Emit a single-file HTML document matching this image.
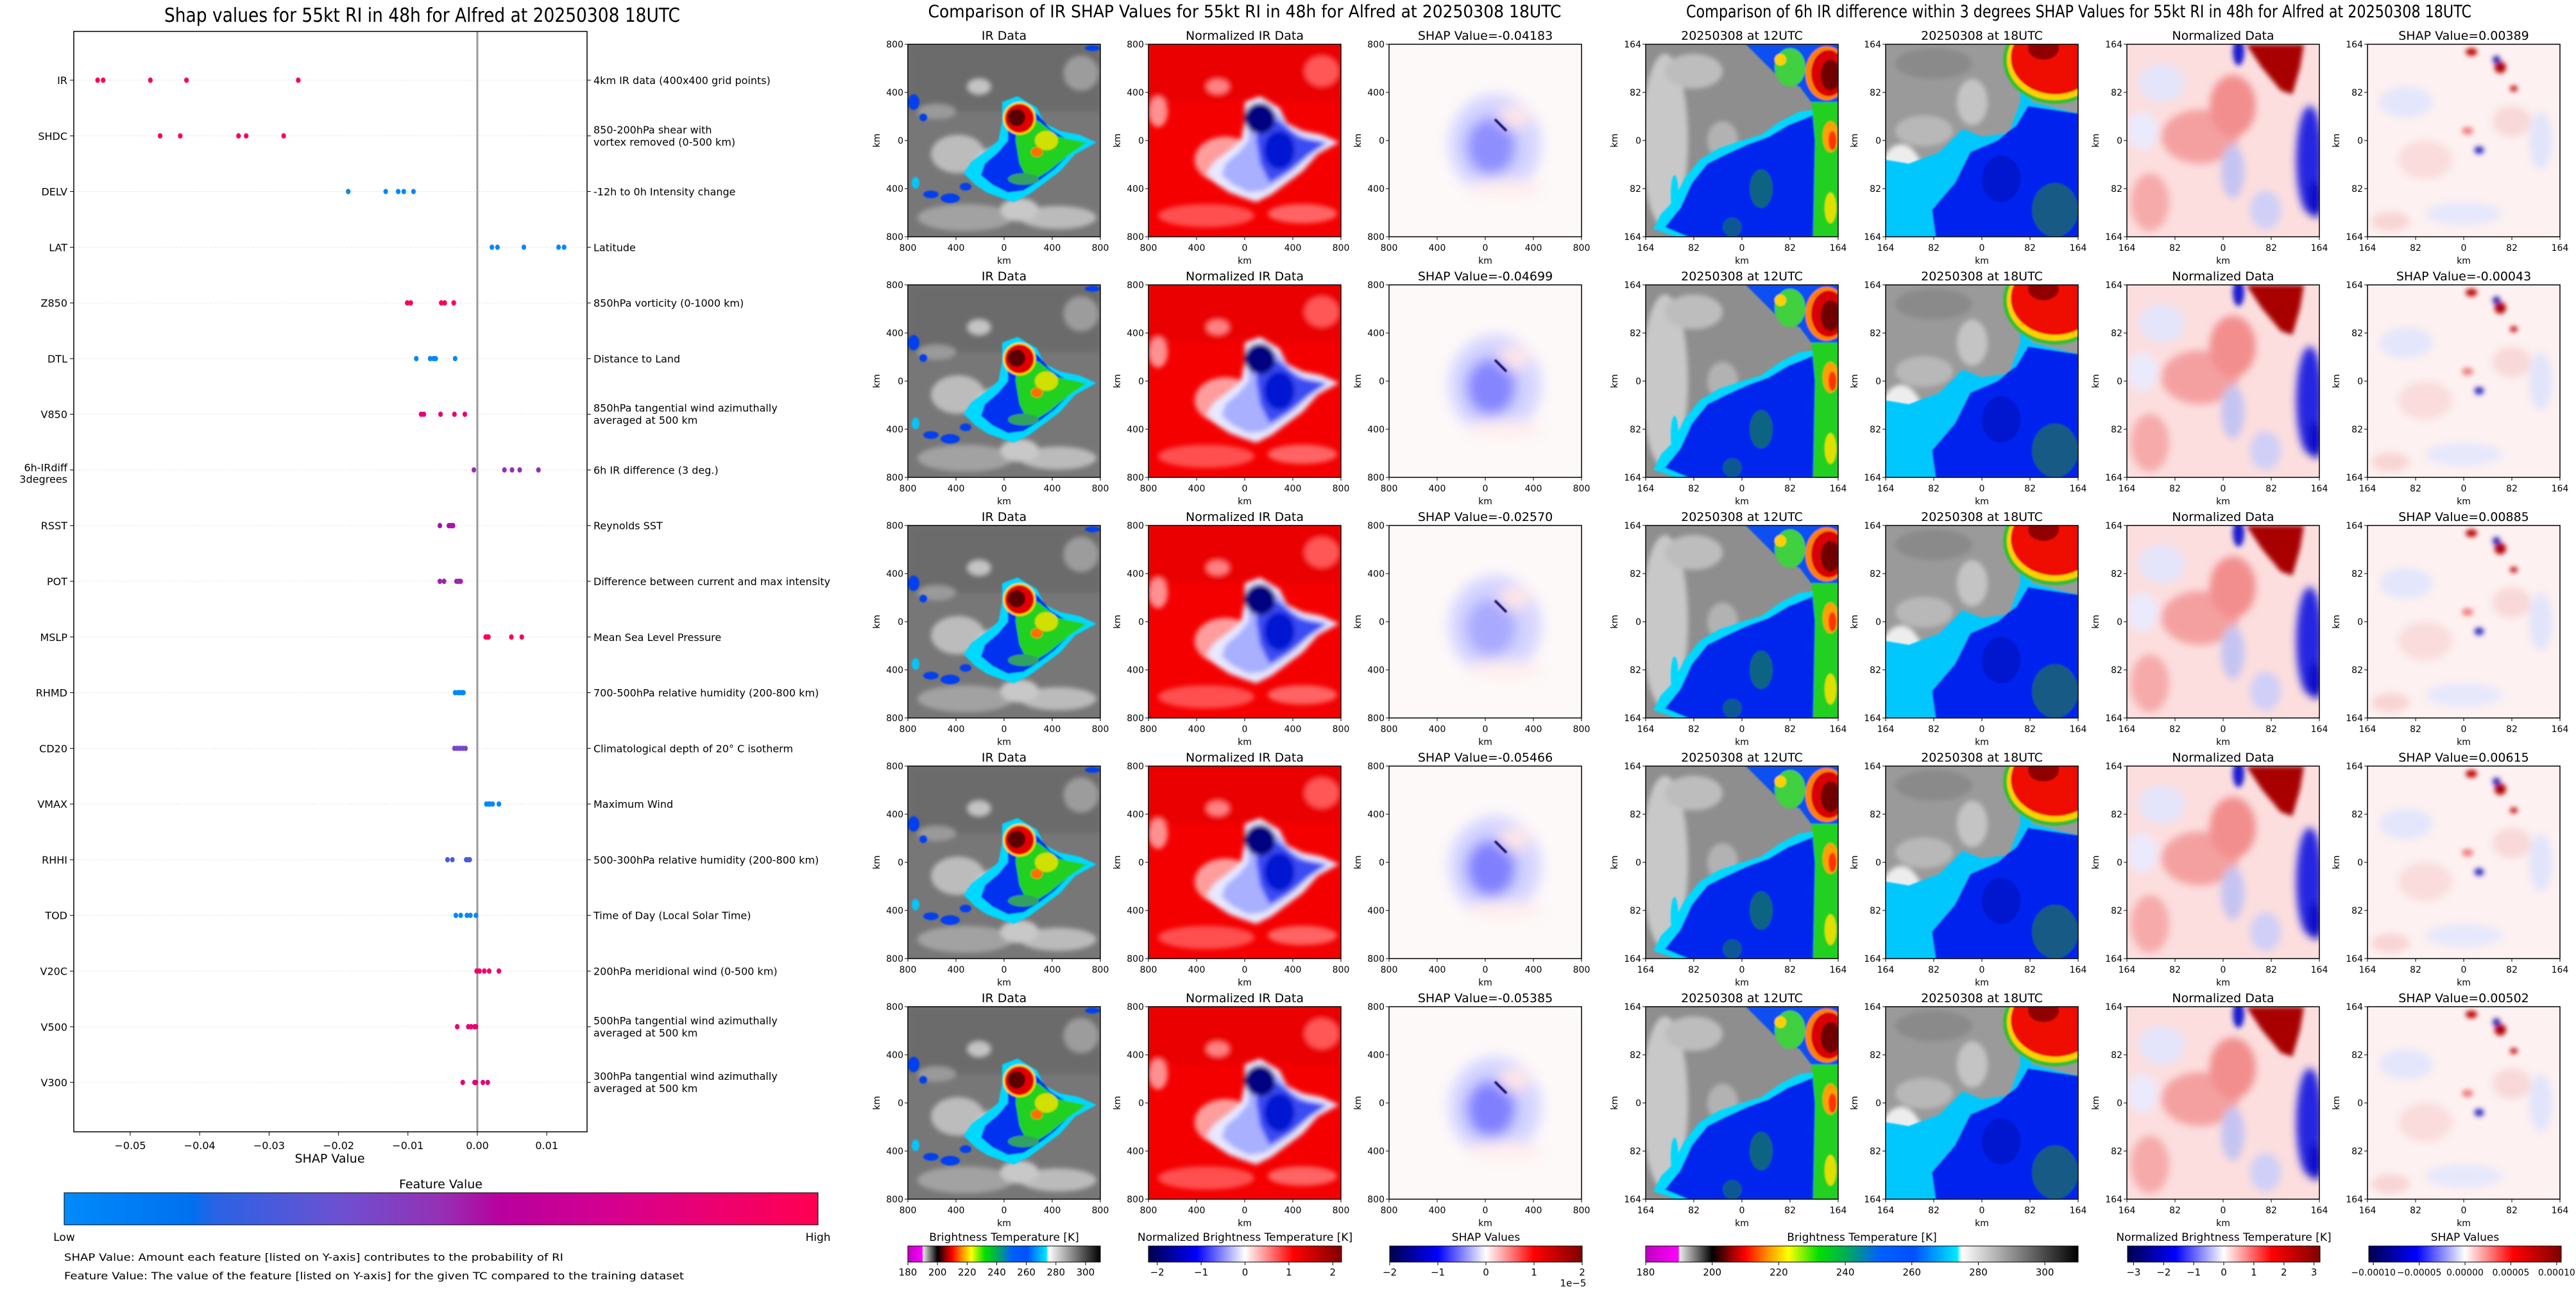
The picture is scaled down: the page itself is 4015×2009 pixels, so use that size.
<!DOCTYPE html>
<html><head><meta charset="utf-8">
<style>
html,body{margin:0;padding:0;background:#fff;}
svg{display:block;}
text{font-family:"DejaVu Sans","Liberation Sans",sans-serif;fill:#000;}
</style></head>
<body>
<svg id="fig" xmlns="http://www.w3.org/2000/svg" width="4015" height="2009" viewBox="0 0 4015 2009">
<defs>
 <filter id="b03" x="-20%" y="-20%" width="140%" height="140%"><feGaussianBlur stdDeviation="0.35"/></filter>
 <filter id="b1" x="-30%" y="-30%" width="160%" height="160%"><feGaussianBlur stdDeviation="1.2"/></filter>
 <filter id="b2" x="-30%" y="-30%" width="160%" height="160%"><feGaussianBlur stdDeviation="2"/></filter>
 <filter id="b3" x="-40%" y="-40%" width="180%" height="180%"><feGaussianBlur stdDeviation="3.5"/></filter>
 <clipPath id="pc"><rect x="0" y="0" width="100" height="100"/></clipPath>
 <linearGradient id="gShap" x1="0" x2="1" y1="0" y2="0">
  <stop offset="0" stop-color="#008bfb"/><stop offset="0.17" stop-color="#0070ef"/><stop offset="0.2" stop-color="#2a62e4"/>
  <stop offset="0.36" stop-color="#6a52d2"/><stop offset="0.5" stop-color="#9530b4"/><stop offset="0.58" stop-color="#b8009e"/>
  <stop offset="0.72" stop-color="#d40090"/><stop offset="0.86" stop-color="#ec0070"/><stop offset="1" stop-color="#ff0051"/>
 </linearGradient>
 <linearGradient id="gIR" x1="0" x2="1" y1="0" y2="0">
  <stop offset="0" stop-color="#c000c0"/><stop offset="0.076" stop-color="#ff00ff"/><stop offset="0.077" stop-color="#f0f0f0"/>
  <stop offset="0.154" stop-color="#000000"/><stop offset="0.2" stop-color="#a00000"/><stop offset="0.23" stop-color="#ff0000"/>
  <stop offset="0.28" stop-color="#ff8c00"/><stop offset="0.33" stop-color="#ffff00"/><stop offset="0.4" stop-color="#00e000"/>
  <stop offset="0.46" stop-color="#00b050"/><stop offset="0.54" stop-color="#0060ff"/><stop offset="0.62" stop-color="#0050ff"/>
  <stop offset="0.72" stop-color="#00e8ff"/><stop offset="0.73" stop-color="#ffffff"/><stop offset="1" stop-color="#000000"/>
 </linearGradient>
 <linearGradient id="gSeis" x1="0" x2="1" y1="0" y2="0">
  <stop offset="0" stop-color="#00004c"/><stop offset="0.25" stop-color="#0000ff"/><stop offset="0.5" stop-color="#ffffff"/>
  <stop offset="0.75" stop-color="#ff0000"/><stop offset="1" stop-color="#800000"/>
 </linearGradient>
</defs>
</svg>
<script>
// ---------------- SHAP summary chart data ----------------
const features=["IR","SHDC","DELV","LAT","Z850","DTL","V850","6h-IRdiff\n3degrees","RSST","POT","MSLP","RHMD","CD20","VMAX","RHHI","TOD","V20C","V500","V300"];
const descriptions=["4km IR data (400x400 grid points)","850-200hPa shear with\nvortex removed (0-500 km)","-12h to 0h Intensity change","Latitude","850hPa vorticity (0-1000 km)","Distance to Land","850hPa tangential wind azimuthally\naveraged at 500 km","6h IR difference (3 deg.)","Reynolds SST","Difference between current and max intensity","Mean Sea Level Pressure","700-500hPa relative humidity (200-800 km)","Climatological depth of 20° C isotherm","Maximum Wind","500-300hPa relative humidity (200-800 km)","Time of Day (Local Solar Time)","200hPa meridional wind (0-500 km)","500hPa tangential wind azimuthally\naveraged at 500 km","300hPa tangential wind azimuthally\naveraged at 500 km"];
const shapValues=[
 [-0.0547,-0.0539,-0.0471,-0.0419,-0.0258],
 [-0.0457,-0.0428,-0.0344,-0.0333,-0.0279],
 [-0.0186,-0.0132,-0.0114,-0.0106,-0.0092],
 [0.0021,0.0029,0.0067,0.0117,0.0125],
 [-0.0101,-0.0096,-0.0052,-0.0047,-0.0034],
 [-0.0088,-0.0068,-0.0063,-0.0060,-0.0032],
 [-0.0081,-0.0077,-0.0053,-0.0033,-0.0018],
 [-0.0005,0.0039,0.0050,0.0061,0.0088],
 [-0.0054,-0.0041,-0.0038,-0.0036,-0.0035],
 [-0.0054,-0.0048,-0.0030,-0.0027,-0.0024],
 [0.0012,0.0014,0.0016,0.0049,0.0064],
 [-0.0032,-0.0028,-0.0025,-0.0022,-0.0020],
 [-0.0033,-0.0029,-0.0025,-0.0021,-0.0017],
 [0.0013,0.0016,0.0018,0.0022,0.0031],
 [-0.0043,-0.0036,-0.0016,-0.0013,-0.0011],
 [-0.0031,-0.0024,-0.0015,-0.0010,-0.0002],
 [-0.0001,0.0003,0.0010,0.0017,0.0031],
 [-0.0029,-0.0013,-0.0009,-0.0004,-0.0002],
 [-0.0021,-0.0004,-0.0002,0.0008,0.0015]];
const featureLevel=[0.98,0.97,0.02,0.02,0.96,0.02,0.83,0.5,0.55,0.52,0.97,0.02,0.4,0.02,0.3,0.02,0.9,0.85,0.8];
const xTicks=[-0.05,-0.04,-0.03,-0.02,-0.01,0.00,0.01];
const xTickLabels=["\u22120.05","\u22120.04","\u22120.03","\u22120.02","\u22120.01","0.00","0.01"];
// IR comparison panel titles
const irShapTitles=[-0.04183,-0.04699,-0.02570,-0.05466,-0.05385];
const diffShapTitles=[0.00389,-0.00043,0.00885,0.00615,0.00502];

const NS='http://www.w3.org/2000/svg';
const svg=document.getElementById('fig');
function mk(tag,attrs,parent){const e=document.createElementNS(NS,tag);for(const k in attrs)e.setAttribute(k,attrs[k]);(parent||svg).appendChild(e);return e;}
function txt(s,attrs,parent){const e=mk('text',attrs,parent);e.textContent=s;return e;}

const AX={l:115,r:915,t:49,b:1764};
const xScale=v=>744+v*10820;
const yScale=i=>125+i*86.78;
const cmapStops=[[0,[0,139,251]],[0.17,[0,112,239]],[0.36,[106,82,210]],[0.5,[149,48,180]],[0.58,[184,0,158]],[0.72,[212,0,144]],[0.86,[236,0,112]],[1,[255,0,81]]];
function cmap(t){for(let i=1;i<cmapStops.length;i++){const a=cmapStops[i-1],b=cmapStops[i];if(t<=b[0]){const f=(t-a[0])/(b[0]-a[0]);const c=a[1].map((v,k)=>Math.round(v+(b[1][k]-v)*f));return 'rgb('+c.join(',')+')';}}return 'rgb(255,0,81)';}

const left=mk('g',{});


const t0=txt('Shap values for 55kt RI in 48h for Alfred at 20250308 18UTC',{x:658,y:34,'text-anchor':'middle','font-size':30,textLength:804,lengthAdjust:'spacingAndGlyphs'},left);


features.forEach((f,i)=>{
 const y=yScale(i);
 const g=mk('line',{x1:AX.l,x2:AX.r,y1:y,y2:y,stroke:'#cccccc','stroke-width':1,'stroke-dasharray':'1,3'},left);
 
 
 mk('line',{x1:AX.l-6,x2:AX.l,y1:y,y2:y,stroke:'#000','stroke-width':1},left);
 mk('line',{x1:AX.r,x2:AX.r+6,y1:y,y2:y,stroke:'#000','stroke-width':1},left);
 const fl=f.split('\n');
 fl.forEach((s,k)=>{
  const yy=fl.length>1?y+2+k*18:y+6;
  const lt=txt(s,{x:AX.l-10,y:yy,'text-anchor':'end','font-size':16},left);
  
  
 });
 const dl=descriptions[i].split('\n');
 dl.forEach((s,k)=>{
  const yy=dl.length>1?y-4+k*19:y+6;
  const rt=txt(s,{x:AX.r+10,y:yy,'font-size':16},left);
  
  
 });
});
const zl=mk('line',{x1:xScale(0),x2:xScale(0),y1:AX.t,y2:AX.b,stroke:'#999999','stroke-width':3},left);


shapValues.forEach((row,i)=>{
 row.forEach(v=>{
  const d=mk('ellipse',{cx:xScale(v),cy:yScale(i),rx:3.6,ry:4.2,fill:cmap(featureLevel[i])},left);
  
  
 });
});
const fr=mk('rect',{x:AX.l,y:AX.t,width:AX.r-AX.l,height:AX.b-AX.t,fill:'none',stroke:'#000','stroke-width':1.5},left);


xTicks.forEach((v,k)=>{
 const x=xScale(v);
 mk('line',{x1:x,x2:x,y1:AX.b,y2:AX.b+6,stroke:'#000','stroke-width':1},left);
 const tl=txt(xTickLabels[k],{x:x,y:AX.b+27,'text-anchor':'middle','font-size':16},left);
 
 
});
const xl=txt('SHAP Value',{x:514,y:1812,'text-anchor':'middle','font-size':19},left);


const fv=txt('Feature Value',{x:687,y:1852,'text-anchor':'middle','font-size':19},left);


const cbar=mk('rect',{x:100,y:1859,width:1175,height:50,fill:'url(#gShap)',stroke:'#000','stroke-width':1},left);


const lo=txt('Low',{x:100,y:1934,'text-anchor':'middle','font-size':17},left);


const hi=txt('High',{x:1275,y:1934,'text-anchor':'middle','font-size':17},left);


const n1=txt('SHAP Value: Amount each feature [listed on Y-axis] contributes to the probability of RI',{x:100,y:1965,'font-size':16,textLength:778,lengthAdjust:'spacingAndGlyphs'},left);


const n2=txt('Feature Value: The value of the feature [listed on Y-axis] for the given TC compared to the training dataset',{x:100,y:1994,'font-size':16,textLength:966,lengthAdjust:'spacingAndGlyphs'},left);



// ---------------- image panels ----------------
const STORM='50,30 58,27 68,33 72,41 80,45 90,47 99,51 88,57 80,66 72,72 64,78 56,82 50,80 42,77 36,73 30,67 34,61 42,55 48,50 50,40';
const STORM_IN='52,33 60,31 68,37 74,44 82,49 92,51 84,57 76,65 68,71 60,76 52,77 44,73 38,68 40,62 47,56 52,50 52,40';
const GREEN='57,36 68,40 78,48 93,51 83,58 73,66 63,72 58,62 56,50';
const T={
ir:`<rect width="100" height="100" fill="#777"/>
<g filter="url(#b1)"><rect width="100" height="35" fill="#666" opacity=".7"/>
<ellipse cx="26" cy="57" rx="14" ry="10" fill="#bcbcbc"/><ellipse cx="45" cy="62" rx="10" ry="8" fill="#cfcfcf"/>
<ellipse cx="30" cy="90" rx="25" ry="7" fill="#a2a2a2"/><ellipse cx="78" cy="90" rx="20" ry="6" fill="#bbb"/>
<ellipse cx="90" cy="15" rx="9" ry="9" fill="#9c9c9c"/><ellipse cx="37" cy="22" rx="6" ry="4" fill="#c4c4c4"/>
<ellipse cx="15" cy="35" rx="10" ry="4" fill="#9a9a9a"/><ellipse cx="58" cy="86" rx="10" ry="6" fill="#c8c8c8"/></g>
<g filter="url(#b03)"><polygon points="${STORM}" fill="#00d8ff" transform="translate(-1,0)"/>
<polygon points="${STORM_IN}" fill="#0030f0"/><polygon points="${GREEN}" fill="#20d020"/>
<ellipse cx="72" cy="50" rx="6" ry="5" fill="#d0e000"/><ellipse cx="67" cy="56" rx="3" ry="2.5" fill="#ff7000"/>
<ellipse cx="60" cy="70" rx="8" ry="3" fill="#30a060"/>
<circle cx="58" cy="38.5" r="8.5" fill="#ffd000"/><circle cx="58" cy="38.5" r="7.5" fill="#e00000"/><circle cx="56.5" cy="38" r="4.5" fill="#5a0000"/>
<ellipse cx="3" cy="30" rx="3" ry="4" fill="#0040f0"/><ellipse cx="8" cy="38" rx="2" ry="2" fill="#0040f0"/>
<ellipse cx="12" cy="78" rx="4" ry="2" fill="#0040f0"/><ellipse cx="22" cy="80" rx="5" ry="2.5" fill="#0040f0"/>
<ellipse cx="4" cy="72" rx="2" ry="3" fill="#00c8ff"/><ellipse cx="30" cy="74" rx="3" ry="2" fill="#0040f0"/>
<ellipse cx="96" cy="2" rx="4" ry="1.5" fill="#0040f0"/></g>`,
nir:`<rect width="100" height="100" fill="#f40000"/>
<g filter="url(#b1)"><rect width="100" height="30" fill="#e20000" opacity=".6"/>
<ellipse cx="40" cy="60" rx="16" ry="12" fill="#ff9c9c"/><ellipse cx="46" cy="66" rx="8" ry="8" fill="#ffe0e0"/>
<ellipse cx="30" cy="89" rx="25" ry="6" fill="#ff5050"/><ellipse cx="80" cy="88" rx="18" ry="5" fill="#ff6464"/>
<ellipse cx="36" cy="22" rx="6" ry="4" fill="#ff8080"/><ellipse cx="90" cy="14" rx="9" ry="8" fill="#ff5656"/>
<ellipse cx="5" cy="35" rx="5" ry="8" fill="#ff9090"/></g>
<g filter="url(#b1)"><polygon points="${STORM}" fill="#e8e8ff"/><polygon points="${STORM_IN}" fill="#a8b0ff"/>
<polygon points="${GREEN}" fill="#3a4cf2"/><ellipse cx="68" cy="55" rx="8" ry="10" fill="#0018d0"/>
<circle cx="58" cy="38.5" r="8" fill="#000080"/></g>`,
sir:`<rect width="100" height="100" fill="#fdf9f9"/>
<g filter="url(#b3)"><ellipse cx="55" cy="52" rx="24" ry="26" fill="#d4d4ff"/><ellipse cx="53" cy="53" rx="13" ry="15" fill="#8080ff" class="core"/>
<ellipse cx="65" cy="38" rx="8" ry="6" fill="#ffe6e6"/><ellipse cx="60" cy="75" rx="20" ry="5" fill="#ffeeee"/></g>
<g filter="url(#b03)"><path d="M55,39 L61,45" stroke="#000060" stroke-width="1.2"/></g>`,
u12:`<rect width="100" height="100" fill="#8e8e8e"/>
<g filter="url(#b1)"><ellipse cx="10" cy="50" rx="12" ry="45" fill="#c8c8c8"/><ellipse cx="25" cy="14" rx="15" ry="9" fill="#bdbdbd"/>
<ellipse cx="40" cy="50" rx="8" ry="10" fill="#b2b2b2"/><ellipse cx="30" cy="80" rx="9" ry="10" fill="#bababa"/></g>
<g filter="url(#b03)"><polygon points="88,34 86,48 90,100 16,100 4,96 8,88 14,82 20,70 28,60 38,54 50,50 60,47 70,40 80,35" fill="#00d8ff"/>
<polygon points="89,36 89,100 22,100 10,95 18,85 24,72 32,62 42,57 53,52 64,48 74,42 84,38" fill="#0028ee"/>
<polygon points="86,28 100,28 100,100 87,100 88,50" fill="#20d020"/>
<ellipse cx="96" cy="48" rx="4" ry="8" fill="#ffa000"/><ellipse cx="97" cy="50" rx="2" ry="5" fill="#ff3000"/>
<ellipse cx="96" cy="85" rx="3" ry="8" fill="#e0e000"/>
<ellipse cx="60" cy="75" rx="6" ry="10" fill="#1a8a3a" opacity=".6"/><ellipse cx="45" cy="95" rx="5" ry="5" fill="#1a8a3a" opacity=".5"/>
<polygon points="52,0 100,0 100,30 86,30 80,22 70,18 60,8" fill="#1050f0"/>
<ellipse cx="75" cy="12" rx="8" ry="10" fill="#40d040"/><ellipse cx="70" cy="8" rx="3" ry="3" fill="#ffd000"/>
<ellipse cx="94" cy="15" rx="11" ry="14" fill="#ff8000"/><ellipse cx="95" cy="15" rx="9" ry="12" fill="#d80000"/><ellipse cx="96" cy="16" rx="5" ry="8" fill="#700000"/>
<ellipse cx="15" cy="78" rx="2" ry="10" fill="#00d8ff"/></g>`,
u18:`<rect width="100" height="100" fill="#9a9a9a"/>
<g filter="url(#b1)"><ellipse cx="8" cy="72" rx="12" ry="20" fill="#ededed"/><ellipse cx="45" cy="30" rx="8" ry="12" fill="#c4c4c4"/>
<ellipse cx="20" cy="45" rx="15" ry="8" fill="#b8b8b8"/><ellipse cx="25" cy="10" rx="20" ry="8" fill="#8a8a8a"/></g>
<g filter="url(#b03)"><polygon points="62,0 68,0 70,30 64,46 50,48 40,44 28,56 12,62 0,60 0,100 100,100 100,36 76,30" fill="#00c8ff"/>
<polygon points="74,32 100,36 100,100 26,100 24,86 36,72 44,56 58,50 68,42" fill="#0022ee"/>
<ellipse cx="88" cy="86" rx="12" ry="14" fill="#208040" opacity=".6"/><ellipse cx="60" cy="70" rx="10" ry="12" fill="#0010b0" opacity=".5"/>
<ellipse cx="88" cy="8" rx="27" ry="23" fill="#30c030"/><ellipse cx="88" cy="8" rx="25" ry="21" fill="#ffd000"/>
<ellipse cx="88" cy="7" rx="23" ry="19" fill="#ee1000"/><ellipse cx="82" cy="2" rx="8" ry="6" fill="#900000"/></g>`,
nd:`<rect width="100" height="100" fill="#fcdede"/>
<g filter="url(#b2)"><ellipse cx="38" cy="48" rx="20" ry="14" fill="#f4a0a0"/><ellipse cx="55" cy="32" rx="12" ry="16" fill="#f28e8e"/>
<ellipse cx="12" cy="82" rx="10" ry="15" fill="#f6aaaa"/><ellipse cx="18" cy="20" rx="12" ry="10" fill="#e4e4fa"/>
<ellipse cx="55" cy="66" rx="6" ry="14" fill="#c4c4f2"/><ellipse cx="72" cy="86" rx="8" ry="10" fill="#cfcff8"/>
<ellipse cx="8" cy="45" rx="8" ry="10" fill="#eaeafc"/>
<ellipse cx="95" cy="60" rx="7" ry="28" fill="#2828e0"/><ellipse cx="98" cy="80" rx="4" ry="10" fill="#1010c8"/></g>
<g filter="url(#b1)"><polygon points="62,0 92,0 90,12 86,26 80,24 70,12" fill="#a80000"/>
<ellipse cx="58" cy="4" rx="3" ry="7" fill="#1a1ad0"/></g>`,
sd:`<rect width="100" height="100" fill="#fdf1f1"/>
<g filter="url(#b2)"><ellipse cx="20" cy="30" rx="14" ry="8" fill="#e4e6fb"/><ellipse cx="75" cy="40" rx="10" ry="8" fill="#f8d8d8"/>
<ellipse cx="30" cy="60" rx="14" ry="10" fill="#fadcdc"/><ellipse cx="90" cy="50" rx="6" ry="15" fill="#e2e4fb"/>
<ellipse cx="50" cy="88" rx="20" ry="6" fill="#e6e8fb"/><ellipse cx="12" cy="92" rx="10" ry="5" fill="#f8d4d4"/></g>
<g filter="url(#b1)"><ellipse cx="54" cy="4" rx="3" ry="2" fill="#c00000"/><ellipse cx="69" cy="12" rx="3" ry="3" fill="#b00000"/>
<ellipse cx="67" cy="8" rx="2" ry="2" fill="#2020b0"/><ellipse cx="76" cy="23" rx="2" ry="1.5" fill="#c00000"/>
<ellipse cx="58" cy="55" rx="2.5" ry="2" fill="#3030c0"/><ellipse cx="52" cy="45" rx="3" ry="2" fill="#f08080"/></g>`
};
const rowTop=r=>69+375*r;
const midX=[1415,1790,2165];
const rightX=[2565,2939,3315,3690];
function panel(x,y,type,title,ticks,name){
 const g=mk('g',{});
 
 
 const im=mk('g',{transform:`translate(${x},${y}) scale(3)`,'clip-path':'url(#pc)'},g);
 im.innerHTML=`<g clip-path="url(#pc)">${T[type]}</g>`;
 
 mk('rect',{x:x,y:y,width:300,height:300,fill:'none',stroke:'#000','stroke-width':1.5},g);
 const tt=txt(title,{x:x+150,y:y-7,'text-anchor':'middle','font-size':19},g);
 
 
 ticks.forEach((s,k)=>{
  const p=k*75;
  mk('line',{x1:x-5,x2:x,y1:y+p,y2:y+p,stroke:'#000'},g);
  mk('line',{x1:x+p,x2:x+p,y1:y+300,y2:y+305,stroke:'#000'},g);
  txt(s,{x:x-7,y:y+p+5,'text-anchor':'end','font-size':14},g);
  txt(s,{x:x+p,y:y+322,'text-anchor':'middle','font-size':14},g);
 });
 txt('km',{x:x+150,y:y+342,'text-anchor':'middle','font-size':14},g);
 txt('km',{x:0,y:0,'text-anchor':'middle','font-size':14,transform:`translate(${x-44},${y+150}) rotate(-90)`},g);
 return g;
}
const kmTicks=['800','400','0','400','800'];
const dTicks=['164','82','0','82','164'];
const fmt=v=>(v<0?'-':'')+Math.abs(v).toFixed(5);
for(let r=0;r<5;r++){
 const y=rowTop(r);
 panel(midX[0],y,'ir','IR Data',kmTicks,'ir-data-panel');
 panel(midX[1],y,'nir','Normalized IR Data',kmTicks,'normalized-ir-panel');
 const sp=panel(midX[2],y,'sir','SHAP Value='+fmt(irShapTitles[r]),kmTicks,'ir-shap-panel');
 const core=sp.querySelector('.core');
 if(core){core.setAttribute('opacity',Math.min(1,Math.abs(irShapTitles[r])/0.05));}
 panel(rightX[0],y,'u12','20250308 at 12UTC',dTicks,'ir-12utc-panel');
 panel(rightX[1],y,'u18','20250308 at 18UTC',dTicks,'ir-18utc-panel');
 panel(rightX[2],y,'nd','Normalized Data',dTicks,'normalized-diff-panel');
 panel(rightX[3],y,'sd','SHAP Value='+fmt(diffShapTitles[r]),dTicks,'diff-shap-panel');
}
const st1=txt('Comparison of IR SHAP Values for 55kt RI in 48h for Alfred at 20250308 18UTC',{x:1940,y:27,'text-anchor':'middle','font-size':27,textLength:987,lengthAdjust:'spacingAndGlyphs'});


const st2=txt('Comparison of 6h IR difference within 3 degrees SHAP Values for 55kt RI in 48h for Alfred at 20250308 18UTC',{x:3240,y:27,'text-anchor':'middle','font-size':27,textLength:1224,lengthAdjust:'spacingAndGlyphs'});



// ---------------- colorbars ----------------
const cbIRTicks=[180,200,220,240,260,280,300];
const cbN1Ticks=[-2,-1,0,1,2];
const cbS1Ticks=[-2,-1,0,1,2];
const cbN2Ticks=[-3,-2,-1,0,1,2,3];
const cbS2Ticks=[-0.0001,-0.00005,0,0.00005,0.0001];
const cbS2Labels=['\u22120.00010','\u22120.00005','0.00000','0.00005','0.00010'];
function colorbar(x,w,grad,label,ticks,lo,hi,labels,name){
 const g=mk('g',{});
 
 
 const y=1942,h=25;
 mk('rect',{x:x,y:y,width:w,height:h,fill:`url(#${grad})`,stroke:'#000','stroke-width':1},g);
 const lt=txt(label,{x:x+w/2,y:y-8,'text-anchor':'middle','font-size':17},g);
 
 
 ticks.forEach((v,k)=>{
  const px=x+(v-lo)/(hi-lo)*w;
  mk('line',{x1:px,x2:px,y1:y+h,y2:y+h+5,stroke:'#000'},g);
  txt(labels?labels[k]:String(v).replace('-','\u2212'),{x:px,y:y+h+21,'text-anchor':'middle','font-size':labels?14:15},g);
 });
 return g;
}
colorbar(1415,300,'gIR','Brightness Temperature [K]',cbIRTicks,180,310,null,'ir-colorbar');
colorbar(1790,301,'gSeis','Normalized Brightness Temperature [K]',cbN1Ticks,-2.2,2.2,null,'normalized-ir-colorbar');
colorbar(2166,300,'gSeis','SHAP Values',cbS1Ticks,-2,2,null,'ir-shap-colorbar');
txt('1e\u22125',{x:2452,y:2005,'text-anchor':'middle','font-size':15});
colorbar(2565,674,'gIR','Brightness Temperature [K]',cbIRTicks,180,310,null,'diff-ir-colorbar');
colorbar(3316,300,'gSeis','Normalized Brightness Temperature [K]',cbN2Ticks,-3.2,3.2,null,'normalized-diff-colorbar');
colorbar(3692,300,'gSeis','SHAP Values',cbS2Ticks,-0.000105,0.000105,cbS2Labels,'diff-shap-colorbar');
</script>
</body></html>
